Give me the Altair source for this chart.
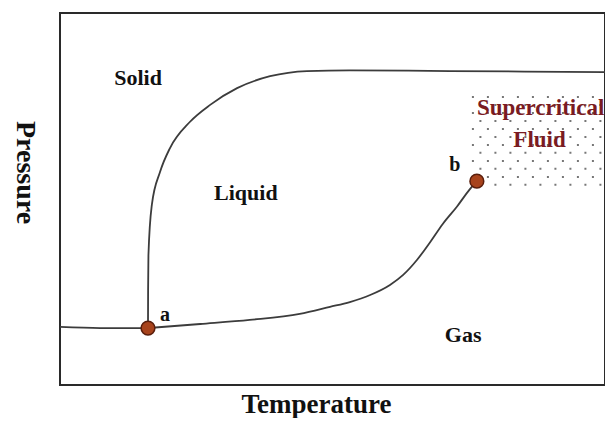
import altair as alt
import pandas as pd

# --- phase boundary curves (T, P in arbitrary units) ---
fusion_T = [16.0, 16.02, 16.08, 16.7, 18.2, 20.0, 23.6, 27.3, 32.2, 38.2, 44.9, 52.7, 70.9, 99.1]
fusion_P = [15.3, 25.5, 34.9, 48.4, 57.3, 63.7, 70.7, 75.3, 79.8, 83.0, 84.4, 84.6, 84.4, 84.1]

vapor_T = [16.0, 25.5, 34.5, 43.6, 49.1, 52.7, 56.4, 60.0, 62.4, 64.9, 67.3, 69.6, 72.2, 74.5, 75.8]
vapor_P = [15.3, 16.4, 17.5, 19.1, 21.0, 22.3, 24.2, 26.9, 29.6, 33.6, 38.4, 43.3, 48.0, 52.6, 54.8]

subl_T = [0.0, 7.3, 16.0]
subl_P = [15.6, 15.3, 15.3]

# --- special points ---
pt_T = [16.0, 75.8]
pt_P = [15.3, 54.8]

# --- labels ---
region_labels = ["Solid", "Liquid", "Gas"]
region_T = [14.2, 33.8, 73.3]
region_P = [82.5, 51.6, 13.4]

sc_labels = ["Supercritical", "Fluid"]
sc_T = [87.4, 87.2]
sc_P = [74.5, 65.9]

pt_labels = ["a", "b"]
ptlab_T = [19.1, 71.8]
ptlab_P = [18.8, 59.1]

# supercritical shading rows (dotted texture)
dot_rows_even = [77.4, 73.1, 68.8, 64.5, 60.2, 55.9]
dot_rows_odd = [75.3, 71.0, 66.7, 62.4, 58.1, 53.8]
dot_T0, dot_T1 = 74.9, 98.8

rows = []
for name, ts, ps in [("fusion", fusion_T, fusion_P), ("vapor", vapor_T, vapor_P), ("subl", subl_T, subl_P)]:
    for i, (t, p) in enumerate(zip(ts, ps)):
        rows.append({"curve": name, "T": t, "P": p, "i": i})
lines_df = pd.DataFrame(rows)

xs = alt.Scale(domain=[0, 99.1], nice=False, zero=False)
ys = alt.Scale(domain=[0, 100], nice=False, zero=False)
FONT = "Liberation Serif"

xax = alt.Axis(title="Temperature", labels=False, ticks=False, domain=False, grid=False,
               titleFont=FONT, titleFontSize=27, titleFontWeight="bold", titleColor="#111",
               titleX=256, titleY=19, titleBaseline="middle", titleAlign="center")
yax = alt.Axis(title="Pressure", labels=False, ticks=False, domain=False, grid=False,
               titleFont=FONT, titleFontSize=28, titleFontWeight="bold", titleColor="#111",
               titleX=-36, titleY=159, titleAngle=90, titleBaseline="middle", titleAlign="center")

def dot_layer(ys_list, offset):
    df = pd.DataFrame({"P": ys_list, "T0": [dot_T0] * len(ys_list), "T1": [dot_T1] * len(ys_list)})
    return alt.Chart(df).mark_rule(color="#777777", strokeWidth=2, strokeDash=[2, 13],
                                   strokeDashOffset=offset, strokeCap="butt").encode(
        x=alt.X("T0:Q", scale=xs, axis=xax), x2="T1:Q", y=alt.Y("P:Q", scale=ys, axis=yax))

dots_even = dot_layer(dot_rows_even, 0)
dots_odd = dot_layer(dot_rows_odd, -7.5)

lines = alt.Chart(lines_df).mark_line(color="#3c3c3c", strokeWidth=1.8, interpolate="monotone").encode(
    x=alt.X("T:Q", scale=xs, axis=xax),
    y=alt.Y("P:Q", scale=ys, axis=yax),
    detail="curve:N",
    order="i:Q",
)

points = alt.Chart(pd.DataFrame({"T": pt_T, "P": pt_P})).mark_point(
    filled=True, size=190, fill="#a8431c", stroke="#5a1e0c", strokeWidth=1.5, opacity=1, shape="circle"
).encode(x=alt.X("T:Q", scale=xs), y=alt.Y("P:Q", scale=ys))

region_text = alt.Chart(pd.DataFrame({"T": region_T, "P": region_P, "lab": region_labels})).mark_text(
    font=FONT, fontSize=22, fontWeight="bold", color="#111", baseline="middle", align="center"
).encode(x=alt.X("T:Q", scale=xs), y=alt.Y("P:Q", scale=ys), text="lab:N")

sc_text = alt.Chart(pd.DataFrame({"T": sc_T, "P": sc_P, "lab": sc_labels})).mark_text(
    font=FONT, fontSize=23, fontWeight="bold", color="#7a1b22", baseline="middle", align="center"
).encode(x=alt.X("T:Q", scale=xs), y=alt.Y("P:Q", scale=ys), text="lab:N")

pt_text = alt.Chart(pd.DataFrame({"T": ptlab_T, "P": ptlab_P, "lab": pt_labels})).mark_text(
    font=FONT, fontSize=20, fontWeight="bold", color="#111", baseline="middle", align="center"
).encode(x=alt.X("T:Q", scale=xs), y=alt.Y("P:Q", scale=ys), text="lab:N")

chart = alt.layer(dots_even, dots_odd, lines, points, region_text, sc_text, pt_text).properties(
    width=545, height=372,
    background="white",
    autosize=alt.AutoSizeParams(type="none"),
    padding={"left": 52, "top": 5, "right": 0, "bottom": 33},
).configure_view(stroke="#2a2a2a", strokeWidth=2)

chart.save("out.html", embed_options={"renderer": "svg", "actions": False})
